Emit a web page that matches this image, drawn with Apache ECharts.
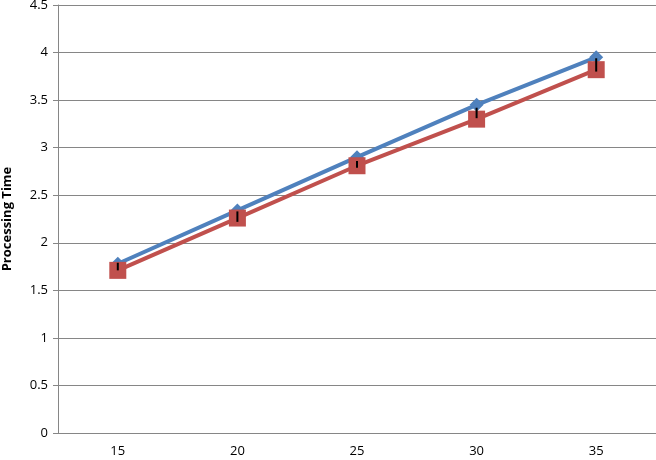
<!DOCTYPE html>
<html>
<head>
<meta charset="utf-8">
<script src="https://cdn.jsdelivr.net/npm/echarts@6/dist/echarts.min.js"></script>
<style>
  html, body { margin: 0; padding: 0; background: #fff; }
  #chart { width: 656px; height: 460px; }
</style>
</head>
<body>
<div id="chart"></div>
<script>
// x 轴类别
const categories = ["15", "20", "25", "30", "35"];
// 两条折线的数值
const blueValues = [1.78, 2.34, 2.90, 3.45, 3.95];
const redValues = [1.71, 2.26, 2.81, 3.30, 3.82];
// 误差线的上下端
const errLow = [1.71, 2.22, 2.79, 3.31, 3.80];
const errHigh = [1.79, 2.33, 2.86, 3.42, 3.94];

const chart = echarts.init(document.getElementById("chart"));
const font = "'Open Sans', 'Liberation Sans', sans-serif";

const option = {
    animation: false,
    grid: { left: 58, right: 0, top: 5, bottom: 27, outerBoundsMode: "none", containLabel: false },
    xAxis: {
        type: "category",
        data: categories,
        boundaryGap: true,
        axisLine: { lineStyle: { color: "#868686", width: 1 } },
        axisTick: { show: false },
        axisLabel: { color: "#000", fontSize: 13, fontFamily: font, margin: 12 }
    },
    yAxis: {
        type: "value",
        min: 0,
        max: 4.5,
        interval: 0.5,
        name: "Processing Time",
        nameLocation: "middle",
        nameGap: 44,
        nameTextStyle: { color: "#000", fontSize: 13, fontWeight: "bold", fontFamily: font },
        axisLine: { show: true, lineStyle: { color: "#868686", width: 1 } },
        axisTick: { show: true, length: 5, lineStyle: { color: "#868686" } },
        axisLabel: { color: "#000", fontSize: 13, fontFamily: font, margin: 10 },
        splitLine: { lineStyle: { color: "#868686", width: 1 } }
    },
    series: [
        {
            type: "line",
            data: blueValues,
            symbol: "diamond",
            symbolSize: 14,
            itemStyle: { color: "#4F81BD" },
            lineStyle: { color: "#4F81BD", width: 4 },
            z: 2
        },
        {
            type: "line",
            data: redValues,
            symbol: "rect",
            symbolSize: 17,
            itemStyle: { color: "#C0504D" },
            lineStyle: { color: "#C0504D", width: 4 },
            z: 3
        },
        {
            type: "custom",
            data: categories.map((c, i) => [i, errLow[i], errHigh[i]]),
            z: 5,
            renderItem: function (params, api) {
                const p1 = api.coord([api.value(0), api.value(1)]);
                const p2 = api.coord([api.value(0), api.value(2)]);
                return {
                    type: "line",
                    shape: { x1: p1[0], y1: p1[1], x2: p2[0], y2: p2[1] },
                    style: { stroke: "#000", lineWidth: 2 }
                };
            }
        }
    ]
};

chart.setOption(option);
</script>
</body>
</html>
